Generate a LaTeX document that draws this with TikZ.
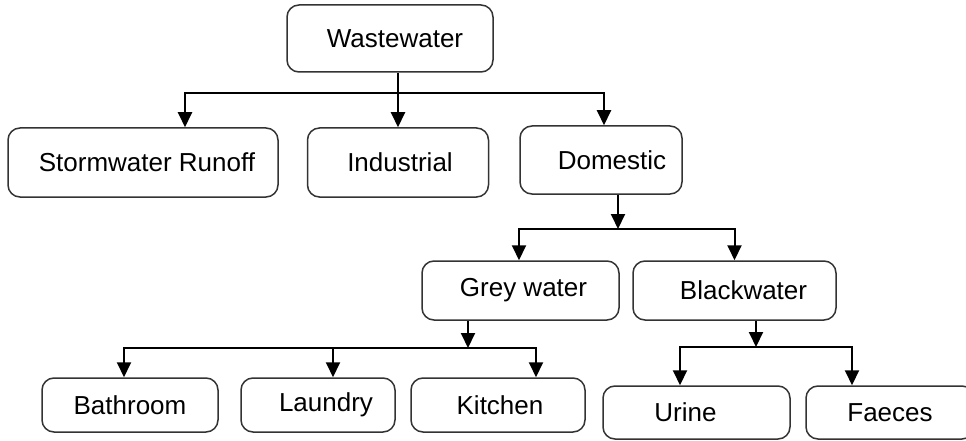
\documentclass[tikz,border=0pt]{standalone}
\usepackage{fontspec}
\setmainfont{Liberation Sans}
\usetikzlibrary{arrows.meta}

\tikzset{
  box/.style={draw=black!80, line width=1.5pt, rounded corners=12pt,
    minimum width=#1, inner sep=0pt,
    font=\fontsize{26}{30}\selectfont},
  tshift/.style={execute at begin node={\hspace*{#1}}},
  arr/.style={line width=2pt, -{Triangle[length=15pt,width=14pt]}}
}

\begin{document}
\begin{tikzpicture}[x=1pt,y=-1pt]
        \useasboundingbox (0,0) rectangle (966,441);

        % top level
        \node[box=206pt, minimum height=67pt, tshift=10pt] (ww) at (390,38.5) {Wastewater};
        \node[box=270pt, minimum height=69pt, tshift=8pt] (storm) at (143,162.5) {Stormwater Runoff};
        \node[box=181pt, minimum height=69pt, tshift=4pt] (ind) at (398,162.5) {Industrial};
        \node[box=162pt, minimum height=68pt, tshift=22pt] (dom) at (601,160) {Domestic};

        % second level
        \node[box=197pt, minimum height=59pt, tshift=6pt] (grey) at (520.5,290.5) {Grey water};
        \node[box=203pt, minimum height=59pt, tshift=18pt] (black) at (734.5,290.5) {Blackwater};

        % third level
        \node[box=176pt, minimum height=54pt] (bath) at (130,405) {Bathroom};
        \node[box=154pt, minimum height=54pt, tshift=16pt] (laun) at (318,405) {Laundry};
        \node[box=174pt, minimum height=54pt, tshift=4pt] (kit) at (498,405) {Kitchen};
        \node[box=187pt, minimum height=53pt, tshift=-22pt] (urine) at (696.5,412.5) {Urine};
        \node[box=168pt, minimum height=53pt] (faec) at (890,412.5) {Faeces};

        % branch points
        \coordinate (wwbr) at (398,93);
        \coordinate (dombr) at (618,229);
        \coordinate (greybr) at (468,348);
        \coordinate (blackbr) at (756,347);

        \draw[arr] (ww.south -| ind.north) -- (ind.north);
        \draw[arr] (wwbr) -| ([xshift=42pt]storm.north);
        \draw[arr] (wwbr) -| ([xshift=3pt]dom.north);

        \draw[arr] (dom.south -| dombr) -- (dombr);
        \draw[arr] (dombr) -| ([xshift=-1.5pt]grey.north);
        \draw[arr] (dombr) -| (black.north);

        \draw[arr] (grey.south -| greybr) -- (greybr);
        \draw[arr] (greybr) -| ([xshift=-6pt]bath.north);
        \draw[arr] (greybr) -| ([xshift=15pt]laun.north);
        \draw[arr] (greybr) -| ([xshift=38pt]kit.north);

        \draw[arr] (black.south -| blackbr) -- (blackbr);
        \draw[arr] (blackbr) -| ([xshift=-16.5pt]urine.north);
        \draw[arr] (blackbr) -| ([xshift=-38pt]faec.north);

      \end{tikzpicture}
\end{document}
